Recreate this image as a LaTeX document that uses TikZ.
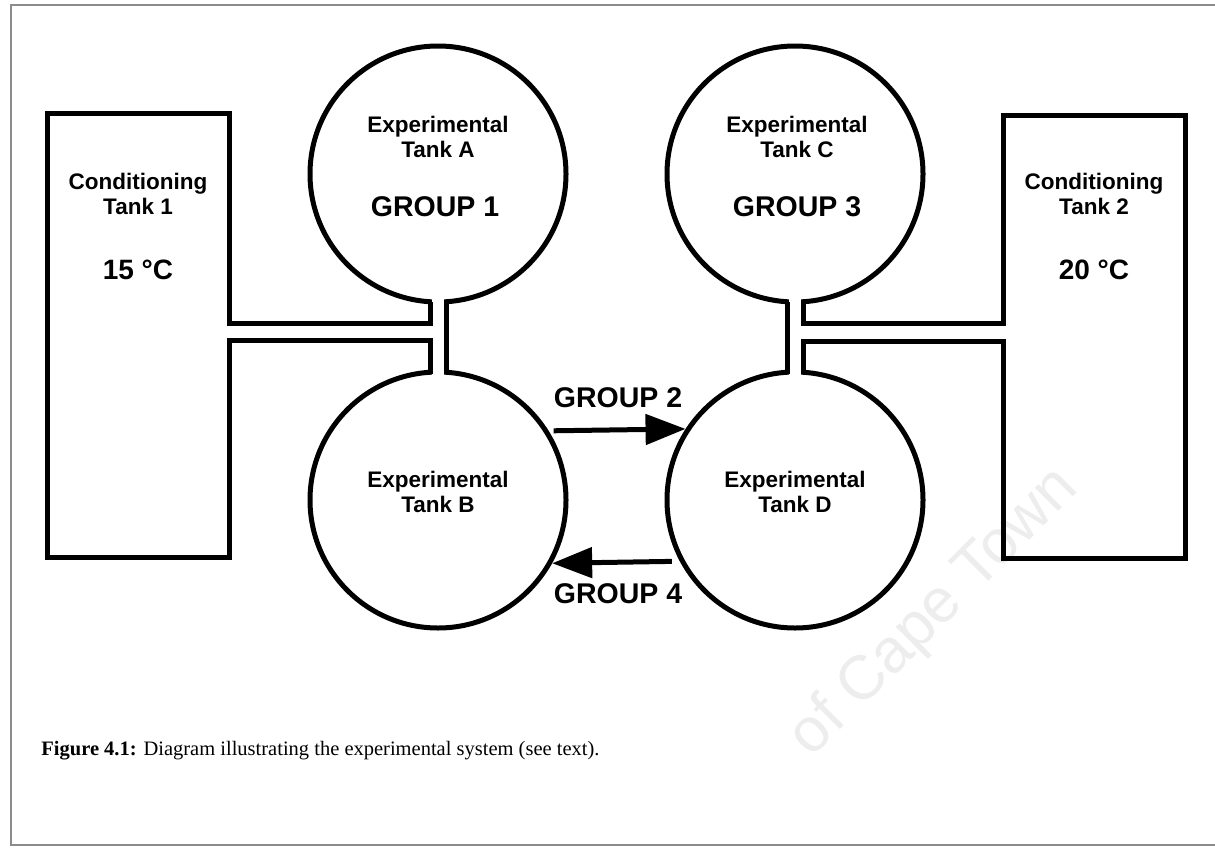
\documentclass[tikz,border=0pt]{standalone}
\usepackage{fontspec}
\setmainfont{Liberation Sans}
\newfontfamily\capfont{Liberation Serif}
\usetikzlibrary{arrows.meta}
\begin{document}
\begin{tikzpicture}[x=0.5pt,y=-0.5pt,
  wall/.style={line width=2.5pt, line join=miter, line cap=butt},
  tank/.style={circle, draw, line width=2.5pt, minimum size=128pt, inner sep=0pt},
  lbl/.style={font=\fontsize{11.25}{12.5}\selectfont\bfseries, align=center, inner sep=0pt},
  grp/.style={font=\fontsize{14.25}{16}\selectfont\bfseries, inner sep=0pt},
  temp/.style={font=\fontsize{14}{16}\selectfont\bfseries, inner sep=0pt},
  flow/.style={line width=2.5pt, -{Triangle[length=20pt,width=15pt]}},
  frame/.style={draw=black!45, line width=1pt}]
\useasboundingbox (0,0) rectangle (1215,851);
% watermark (visible part)
\node[rotate=45, anchor=base east, text=black!7, inner sep=0pt,
      font=\fontsize{31}{31}\selectfont] (wm) at (1080,490) {of Cape Town};
% frame
\draw[frame] (1215,5) -- (11,5) -- (11,845) -- (1215,845);
% experimental tanks
\node[tank] (A) at (438,174) {};
\node[tank] (B) at (438,500) {};
\node[tank] (C) at (795,174) {};
\node[tank] (D) at (795,500) {};
% open the pipe channels
\fill[white] (432.3,290) rectangle (443.7,385);
\fill[white] (789.3,290) rectangle (800.7,385);
% conditioning tank 1 and its pipe
\draw[wall] (430,302) -- (430,323) -- (229,323) -- (229,113) -- (47,113) -- (47,557)
  -- (229,557) -- (229,340) -- (430,340) -- (430,374);
\draw[wall] (446,302) -- (446,374);
% conditioning tank 2 and its pipe
\draw[wall] (803,302) -- (803,323) -- (1003,323) -- (1003,115) -- (1185,115) -- (1185,558)
  -- (1003,558) -- (1003,341) -- (803,341) -- (803,374);
\draw[wall] (787,302) -- (787,374);
% labels
\node[lbl] (t1) at (138,194) {Conditioning\\Tank 1};
\node[temp] (t1c) at (138,270) {15 °C};
\node[lbl] (t2) at (1094,194) {Conditioning\\Tank 2};
\node[temp] (t2c) at (1094,270) {20 °C};
\node[lbl] (la) at (438,137) {Experimental\\Tank A};
\node[grp] (g1) at (435,207) {GROUP 1};
\node[lbl] (lc) at (797,137) {Experimental\\Tank C};
\node[grp] (g3) at (797,207) {GROUP 3};
\node[lbl] (lb) at (438,492) {Experimental\\Tank B};
\node[lbl] (ld) at (795,492) {Experimental\\Tank D};
% transfers
\draw[flow, shorten <=2.5pt] (B.32.4) -- (D.147.6);
\node[grp] (g2) at (618,398) {GROUP 2};
\draw[flow, shorten <=4pt] (D.208.9) -- (B.331.1);
\node[grp] (g4) at (618,594) {GROUP 4};
% caption
\node[anchor=base west, inner sep=0pt, font=\capfont\fontsize{10.25}{12}\selectfont] (cap)
  at (41,755) {\textbf{Figure 4.1:} Diagram illustrating the experimental system (see text).};
\end{tikzpicture}
\end{document}
